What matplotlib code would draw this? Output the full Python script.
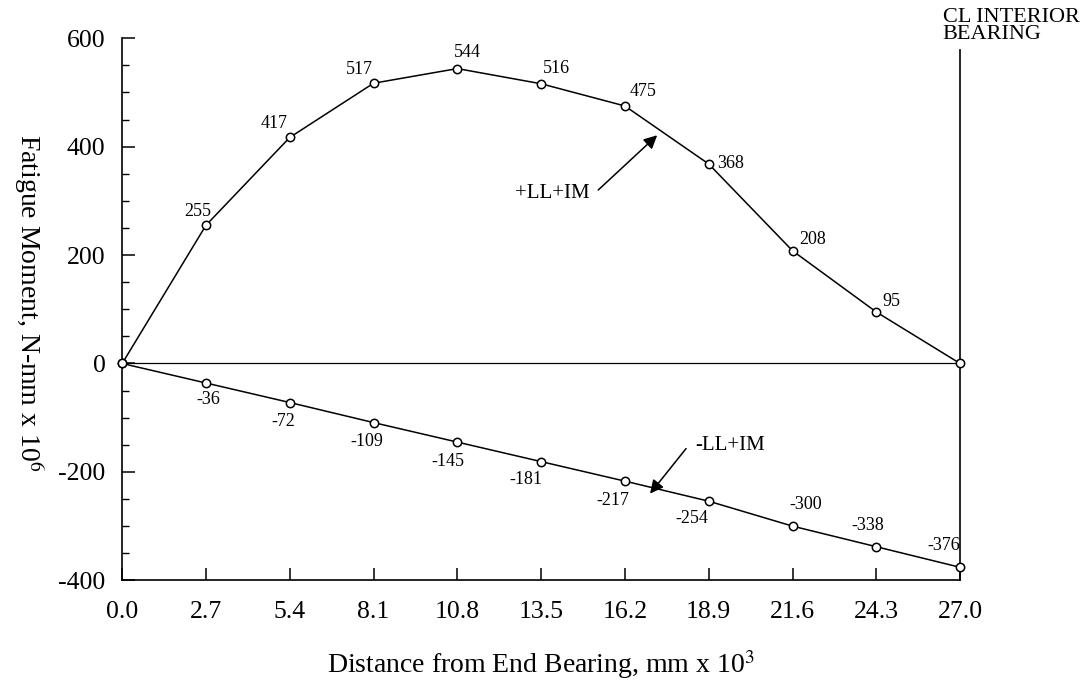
import matplotlib.pyplot as plt
from matplotlib.ticker import MultipleLocator

# data
distance = [0.0, 2.7, 5.4, 8.1, 10.8, 13.5, 16.2, 18.9, 21.6, 24.3, 27.0]
pos_moment = [0, 255, 417, 517, 544, 516, 475, 368, 208, 95, 0]
neg_moment = [0, -36, -72, -109, -145, -181, -217, -254, -300, -338, -376]
xtick_labels = ["0.0", "2.7", "5.4", "8.1", "10.8", "13.5", "16.2", "18.9", "21.6", "24.3", "27.0"]

# label offsets in pixels (dx, dy) for each point, skipping the first
pos_offsets = [(-8, 14), (-16, 14), (-14, 14), (10, 16), (15, 15), (18, 14), (22, 0), (20, 11), (15, 10), (0, 0)]
neg_offsets = [(2, -16), (-7, -19), (-7, -19), (-9, -19), (-15, -18), (-12, -19), (-17, -17), (13, 22), (-9, 21), (-16, 22)]

plt.rcParams['font.family'] = ['Liberation Serif', 'DejaVu Serif']
plt.rcParams['axes.unicode_minus'] = False
plt.rcParams['mathtext.fontset'] = 'stix'

fig = plt.figure(figsize=(10.91, 6.95), dpi=100)
ax = fig.add_axes([0.112, 0.165, 0.768, 0.78])

ax.plot(distance, pos_moment, color="black", lw=1.1, marker="o", ms=6,
        mfc="white", mec="black", mew=1.1, clip_on=False, zorder=3)
ax.plot(distance, neg_moment, color="black", lw=1.1, marker="o", ms=6,
        mfc="white", mec="black", mew=1.1, clip_on=False, zorder=3)
ax.plot([distance[0], distance[-1]], [0, 0], color="black", lw=0.9, zorder=2)

# centre line of interior bearing
ax.plot([distance[-1], distance[-1]], [-400, 578], color="black", lw=1.2, clip_on=False)
fig.text(0.864, 0.988, "CL INTERIOR\nBEARING", ha="left", va="top",
         fontsize=16, linespacing=0.85)

for i in range(1, len(distance)):
    if i < len(distance) - 1:
        dx, dy = pos_offsets[i - 1]
        ax.annotate(str(pos_moment[i]), (distance[i], pos_moment[i]), xytext=(dx, dy),
                    textcoords="offset pixels", ha="center", va="center", fontsize=13)
    dx, dy = neg_offsets[i - 1]
    ax.annotate(str(neg_moment[i]), (distance[i], neg_moment[i]), xytext=(dx, dy),
                textcoords="offset pixels", ha="center", va="center", fontsize=13)

# curve labels with arrows
arrow = dict(arrowstyle="-|>", color="black", lw=1.1, mutation_scale=20, shrinkA=0, shrinkB=0)
ax.text(13.86, 313, "+LL+IM", fontsize=15, ha="center", va="center")
ax.annotate("", xy=(17.24, 421), xytext=(15.34, 320), arrowprops=arrow)
ax.text(19.59, -151, "-LL+IM", fontsize=15, ha="center", va="center")
ax.annotate("", xy=(17.01, -240), xytext=(18.17, -157), arrowprops=arrow)

ax.set_xlim(0, 27)
ax.set_ylim(-400, 600)
ax.set_xticks(distance)
ax.set_xticklabels(xtick_labels)
ax.set_yticks([-400, -200, 0, 200, 400, 600])
ax.yaxis.set_minor_locator(MultipleLocator(50))
ax.tick_params(axis="both", which="major", direction="in", length=9, width=1.1, labelsize=18.5)
ax.tick_params(axis="x", pad=15)
ax.tick_params(axis="y", pad=12)
ax.tick_params(axis="y", which="minor", direction="in", length=5, width=1.0)

ax.spines["top"].set_visible(False)
ax.spines["right"].set_visible(False)
ax.spines["left"].set_linewidth(1.2)
ax.spines["bottom"].set_linewidth(1.2)

ax.set_xlabel("Distance from End Bearing, mm x 10$^3$", fontsize=20, labelpad=18)
fig.text(0.026, 0.565, "Fatigue Moment, N-mm x 10$^6$", rotation=-90, fontsize=20,
         ha="center", va="center")

fig.savefig("out.png", dpi=100, facecolor="white")
